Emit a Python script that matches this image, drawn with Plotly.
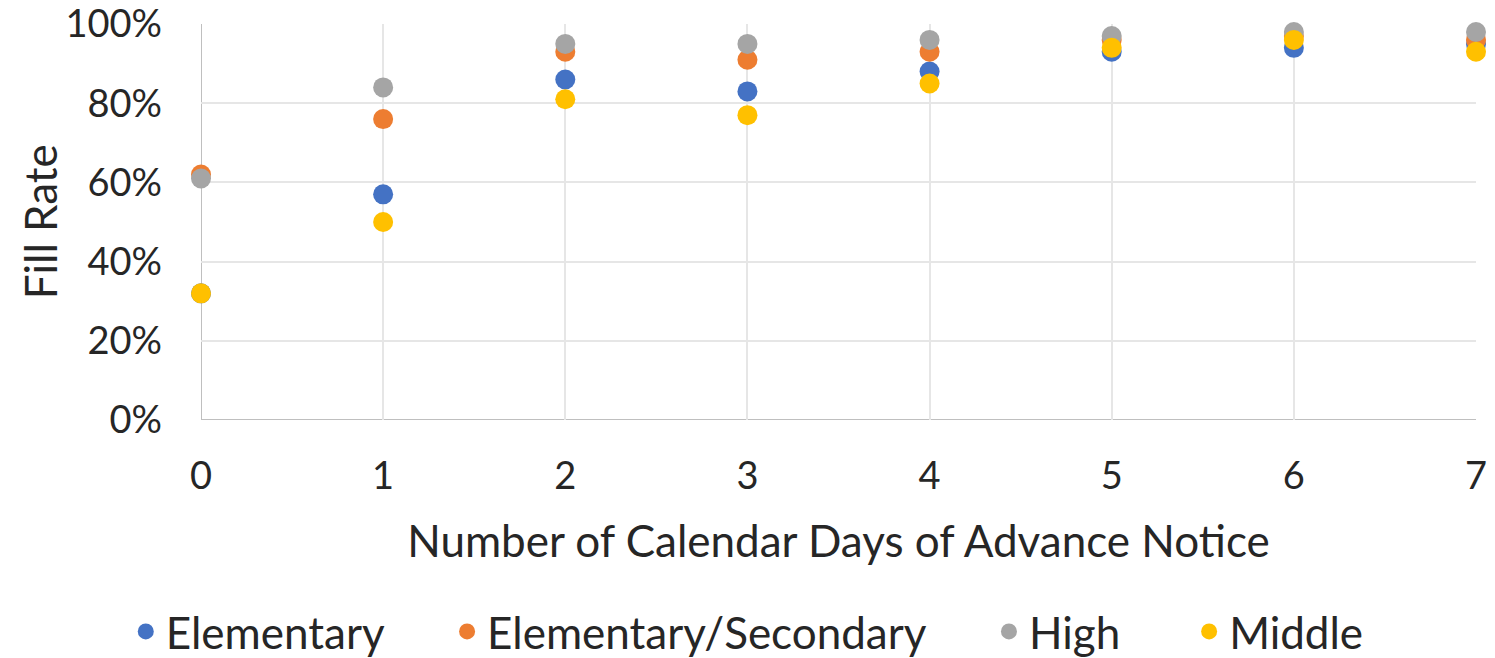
import plotly.graph_objects as go

days = [0, 1, 2, 3, 4, 5, 6, 7]
elementary = [32, 57, 86, 83, 88, 93, 94, 95]
elem_secondary = [62, 76, 93, 91, 93, 96, 97, 96]
high = [61, 84, 95, 95, 96, 97, 98, 98]
middle = [32, 50, 81, 77, 85, 94, 96, 93]
y_ticks = [0, 20, 40, 60, 80, 100]

series = [
    ("Elementary", elementary, "#4472C4"),
    ("Elementary/Secondary", elem_secondary, "#ED7D31"),
    ("High", high, "#A5A5A5"),
    ("Middle", middle, "#FFC000"),
]

FONT = "Lato, Open Sans, sans-serif"
legend_ids = ["legend", "legend2", "legend3", "legend4"]
legend_x = [-0.059, 0.193, 0.618, 0.775]

fig = go.Figure()
for (name, vals, color), lid in zip(series, legend_ids):
    fig.add_trace(go.Scatter(
        x=days, y=vals, mode="markers", name=name,
        marker=dict(color=color, size=20, line=dict(width=0)),
        cliponaxis=False, legend=lid,
    ))

legend_common = dict(orientation="h", xanchor="left", y=-0.535, yanchor="middle",
                     font=dict(size=44, color="#262626"), itemsizing="trace",
                     bgcolor="rgba(0,0,0,0)")
layout_legends = {lid: dict(x=lx, **legend_common) for lid, lx in zip(legend_ids, legend_x)}

fig.update_layout(
    width=1495, height=658,
    paper_bgcolor="white", plot_bgcolor="white",
    margin=dict(l=201, r=19, t=24, b=238, autoexpand=False),
    font=dict(family=FONT, size=38, color="#262626"),
    showlegend=True,
    **layout_legends,
)
fig.update_xaxes(
    range=[0, 7], tickvals=days, ticktext=[str(d) for d in days],
    showgrid=True, gridcolor="#e6e6e6", gridwidth=2,
    zeroline=False, showline=False, ticks="", automargin=False,
    ticklabeloverflow="allow",
    tickfont=dict(size=38), ticklabelstandoff=30,
    title=dict(text="Number of Calendar Days of Advance Notice", font=dict(size=44), standoff=30),
)
fig.update_yaxes(
    range=[0, 100.02], tickvals=y_ticks,
    ticktext=[f"{t}%" for t in y_ticks],
    showgrid=True, gridcolor="#e6e6e6", gridwidth=2,
    zeroline=False, showline=False, ticks="", automargin=False,
    ticklabeloverflow="allow",
    tickfont=dict(size=38), ticklabelstandoff=38,
)
# y-axis title placed as a rotated annotation
fig.add_annotation(text="Fill Rate", xref="paper", yref="paper", x=-0.126, y=0.5,
                   xanchor="center", yanchor="middle", textangle=-90, showarrow=False,
                   font=dict(size=44, color="#262626"))
# axis lines at x=0 and y=0
fig.add_shape(type="line", xref="x", yref="paper", x0=0, x1=0, y0=0, y1=1,
              line=dict(color="#bfbfbf", width=2), layer="below")
fig.add_shape(type="line", xref="paper", yref="y", x0=0, x1=1, y0=0, y1=0,
              line=dict(color="#bfbfbf", width=2), layer="below")

fig.write_html("out.html", config={"displayModeBar": False},
               post_script="document.body.style.margin='0';")
